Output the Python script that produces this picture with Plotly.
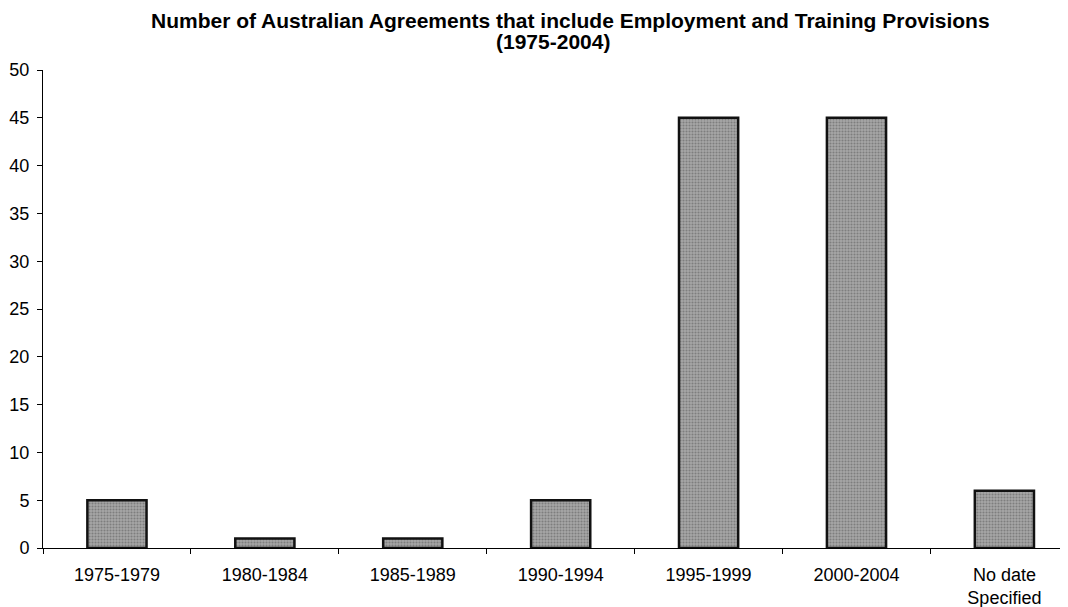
import plotly.graph_objects as go

categories = ["1975-1979", "1980-1984", "1985-1989", "1990-1994", "1995-1999", "2000-2004", "No date<br>Specified"]
counts = [5, 1, 1, 5, 45, 45, 6]
y_ticks = [0, 5, 10, 15, 20, 25, 30, 35, 40, 45, 50]
title_line1 = "Number of Australian Agreements that include Employment and Training Provisions"
title_line2 = "(1975-2004)"

fig = go.Figure()
fig.add_trace(go.Bar(
    x=categories, y=counts, width=0.4,
    marker=dict(color="#999999", line=dict(color="#111111", width=2.5),
                pattern=dict(shape=".", fgcolor="#555555", bgcolor="#a6a6a6", size=3, solidity=0.4)),
))

FONT = "Liberation Sans, Arial, sans-serif"
# the page body adds an 8px offset, so the figure is 8px smaller and margins compensate
fig.update_layout(
    width=1060, height=599,
    margin=dict(l=35, r=0, t=62, b=59),
    paper_bgcolor="white", plot_bgcolor="white",
    font=dict(family=FONT, size=18, color="black"),
    showlegend=False,
)
# title lines as annotations (paper coordinates above the plot area)
fig.add_annotation(text="<b>" + title_line1 + "</b>", xref="paper", yref="paper",
                   x=(570 - 43) / 1025, y=1 + (70 - 20) / 478, xanchor="center", yanchor="middle",
                   showarrow=False, font=dict(family=FONT, size=21, color="black"))
fig.add_annotation(text="<b>" + title_line2 + "</b>", xref="paper", yref="paper",
                   x=(553 - 43) / 1025, y=1 + (70 - 41.5) / 478, xanchor="center", yanchor="middle",
                   showarrow=False, font=dict(family=FONT, size=21, color="black"))

fig.update_xaxes(
    type="category", range=[-0.5, 6.43],
    showline=True, linecolor="black", linewidth=1,
    ticks="outside", tickson="boundaries", ticklen=5, tickcolor="black",
    ticklabelstandoff=10,
    showgrid=False, zeroline=False,
)
fig.update_yaxes(
    range=[0, 50], tickvals=y_ticks,
    showline=True, linecolor="black", linewidth=1,
    ticks="outside", ticklen=5, tickcolor="black",
    ticklabelstandoff=4,
    showgrid=False, zeroline=False,
)

fig.write_html("out.html")
